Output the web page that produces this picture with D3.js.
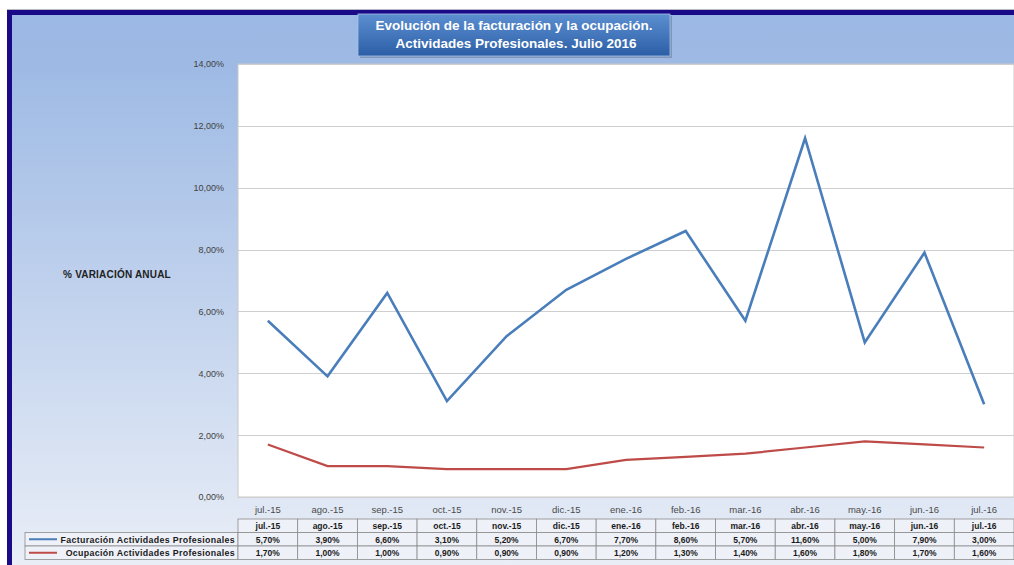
<!DOCTYPE html>
<html>
<head>
<meta charset="utf-8">
<script src="https://cdn.jsdelivr.net/npm/d3@7"></script>
<style>
  body { margin: 0; background: #fff; }
  svg { display: block; font-family: Arial, "Liberation Sans", sans-serif; }
</style>
</head>
<body>
<div id="chart"></div>
<script>
// data
var months = ["jul.-15", "ago.-15", "sep.-15", "oct.-15", "nov.-15", "dic.-15", "ene.-16",
              "feb.-16", "mar.-16", "abr.-16", "may.-16", "jun.-16", "jul.-16"];
var facturacion = [5.7, 3.9, 6.6, 3.1, 5.2, 6.7, 7.7, 8.6, 5.7, 11.6, 5.0, 7.9, 3.0];
var ocupacion = [1.7, 1.0, 1.0, 0.9, 0.9, 0.9, 1.2, 1.3, 1.4, 1.6, 1.8, 1.7, 1.6];
var yTicks = [0, 2, 4, 6, 8, 10, 12, 14];
var seriesNames = ["Facturación Actividades Profesionales", "Ocupación Actividades Profesionales"];

var W = 1014, H = 565;
var plot = { left: 238, right: 1014, top: 64, bottom: 497 };

var svg = d3.select("#chart").append("svg")
    .attr("width", W)
    .attr("height", H);

var defs = svg.append("defs");
var bg = defs.append("linearGradient").attr("id", "bg")
    .attr("x1", 0).attr("y1", 0).attr("x2", 0).attr("y2", 1);
bg.append("stop").attr("offset", "0%").attr("stop-color", "#9bb7e3");
bg.append("stop").attr("offset", "8%").attr("stop-color", "#9db9e4");
bg.append("stop").attr("offset", "100%").attr("stop-color", "#e9eef7");

var tg = defs.append("linearGradient").attr("id", "titlebg")
    .attr("x1", 0).attr("y1", 0).attr("x2", 0).attr("y2", 1);
tg.append("stop").attr("offset", "0%").attr("stop-color", "#5b8fd0");
tg.append("stop").attr("offset", "100%").attr("stop-color", "#2c5ea6");

// frame
svg.append("line").attr("x1", 7).attr("x2", W).attr("y1", 9.5).attr("y2", 9.5)
    .attr("stroke", "#b8b8c8").attr("stroke-width", 1);
svg.append("rect").attr("x", 7).attr("y", 10).attr("width", W - 7).attr("height", H - 10)
    .attr("fill", "#1b0a87");
svg.append("rect").attr("x", 12).attr("y", 15).attr("width", W - 12).attr("height", H - 15)
    .attr("fill", "url(#bg)");

// title
var titleG = svg.append("g");
titleG.append("rect").attr("x", 360).attr("y", 16).attr("width", 312).attr("height", 42)
    .attr("fill", "#6d7fa0").attr("opacity", 0.6);
titleG.append("rect").attr("x", 358).attr("y", 14).attr("width", 312).attr("height", 42)
    .attr("fill", "url(#titlebg)").attr("stroke", "#a9c1e6").attr("stroke-width", 0.8);
titleG.append("text").attr("x", 514).attr("y", 30).attr("text-anchor", "middle")
    .attr("fill", "#fff").attr("font-weight", "bold").attr("font-size", 13.5)
    .text("Evolución de la facturación y la ocupación.");
titleG.append("text").attr("x", 516).attr("y", 48).attr("text-anchor", "middle")
    .attr("fill", "#fff").attr("font-weight", "bold").attr("font-size", 13.5)
    .text("Actividades Profesionales. Julio 2016");

// scales
var x = d3.scaleBand().domain(months).range([plot.left, plot.right]);
var y = d3.scaleLinear().domain([0, 14]).range([plot.bottom, plot.top]);
var cx = function(d, i) { return x(months[i]) + x.bandwidth() / 2; };

// plot area
svg.append("rect").attr("x", plot.left).attr("y", plot.top)
    .attr("width", plot.right - plot.left).attr("height", plot.bottom - plot.top)
    .attr("fill", "#fff").attr("stroke", "#c8c8c8");

svg.append("g").selectAll("line").data(yTicks).join("line")
    .attr("x1", plot.left).attr("x2", plot.right)
    .attr("y1", function(d) { return Math.round(y(d)) + 0.5; })
    .attr("y2", function(d) { return Math.round(y(d)) + 0.5; })
    .attr("stroke", "#cfcfcf").attr("stroke-width", 1.2);

// y axis labels
var fmt = function(v) { return v.toFixed(2).replace(".", ",") + "%"; };
var yAxis = d3.axisLeft(y).tickValues(yTicks).tickSize(0).tickPadding(14).tickFormat(fmt);
var yg = svg.append("g").attr("transform", "translate(" + plot.left + ",0)").call(yAxis);
yg.select(".domain").remove();
yg.selectAll("text").attr("font-size", 9).attr("fill", "#404040")
    .attr("font-family", "Arial, 'Liberation Sans', sans-serif");

svg.append("text").attr("x", 117).attr("y", 278).attr("text-anchor", "middle")
    .attr("font-size", 10).attr("font-weight", "bold").attr("fill", "#222")
    .attr("letter-spacing", 0.2)
    .text("% VARIACIÓN ANUAL");

// x axis labels
var xAxis = d3.axisBottom(x).tickSize(0).tickPadding(9);
var xg = svg.append("g").attr("transform", "translate(0," + plot.bottom + ")").call(xAxis);
xg.select(".domain").remove();
xg.selectAll("text").attr("font-size", 9.5).attr("fill", "#4a4a4a")
    .attr("font-family", "Arial, 'Liberation Sans', sans-serif");

// lines
var line = d3.line().x(cx).y(function(d) { return y(d); });
svg.append("path").datum(ocupacion).attr("d", line)
    .attr("fill", "none").attr("stroke", "#be4b48").attr("stroke-width", 2.2);
svg.append("path").datum(facturacion).attr("d", line)
    .attr("fill", "none").attr("stroke", "#4a7ebb").attr("stroke-width", 2.6)
    .attr("stroke-linejoin", "miter");

// data table
var rowTop = 519, rowH = 13.5, legendLeft = 25;
var colors = ["#4a7ebb", "#be4b48"];
var table = svg.append("g");

// header row
table.selectAll("rect.hdr").data(months).join("rect").attr("class", "hdr")
    .attr("x", function(d) { return x(d); }).attr("y", rowTop)
    .attr("width", x.bandwidth()).attr("height", rowH)
    .attr("fill", "#eef1f8").attr("stroke", "#8c8c8c").attr("stroke-width", 0.8);
table.selectAll("text.hdr").data(months).join("text").attr("class", "hdr")
    .attr("x", function(d) { return x(d) + x.bandwidth() / 2; }).attr("y", rowTop + 10)
    .attr("text-anchor", "middle").attr("font-size", 8.5).attr("font-weight", "bold")
    .attr("fill", "#1a1a1a").text(function(d) { return d; });

[facturacion, ocupacion].forEach(function(vals, r) {
  var top = rowTop + rowH * (r + 1);
  table.append("rect").attr("x", legendLeft).attr("y", top)
      .attr("width", plot.left - legendLeft).attr("height", rowH)
      .attr("fill", "#eef1f8").attr("stroke", "#8c8c8c").attr("stroke-width", 0.8);
  table.append("line").attr("x1", legendLeft + 4).attr("x2", legendLeft + 32)
      .attr("y1", top + rowH / 2).attr("y2", top + rowH / 2)
      .attr("stroke", colors[r]).attr("stroke-width", 2);
  table.append("text").attr("x", plot.left - 3).attr("y", top + 10)
      .attr("text-anchor", "end").attr("font-size", 8.8).attr("font-weight", "bold")
      .attr("fill", "#1a1a1a").attr("letter-spacing", 0.35).text(seriesNames[r]);
  table.selectAll("rect.r" + r).data(vals).join("rect").attr("class", "r" + r)
      .attr("x", function(d, i) { return x(months[i]); }).attr("y", top)
      .attr("width", x.bandwidth()).attr("height", rowH)
      .attr("fill", "#eef1f8").attr("stroke", "#8c8c8c").attr("stroke-width", 0.8);
  table.selectAll("text.r" + r).data(vals).join("text").attr("class", "r" + r)
      .attr("x", cx).attr("y", top + 10)
      .attr("text-anchor", "middle").attr("font-size", 8.5).attr("font-weight", "bold")
      .attr("fill", "#1a1a1a").text(function(d) { return fmt(d); });
});
</script>
</body>
</html>
